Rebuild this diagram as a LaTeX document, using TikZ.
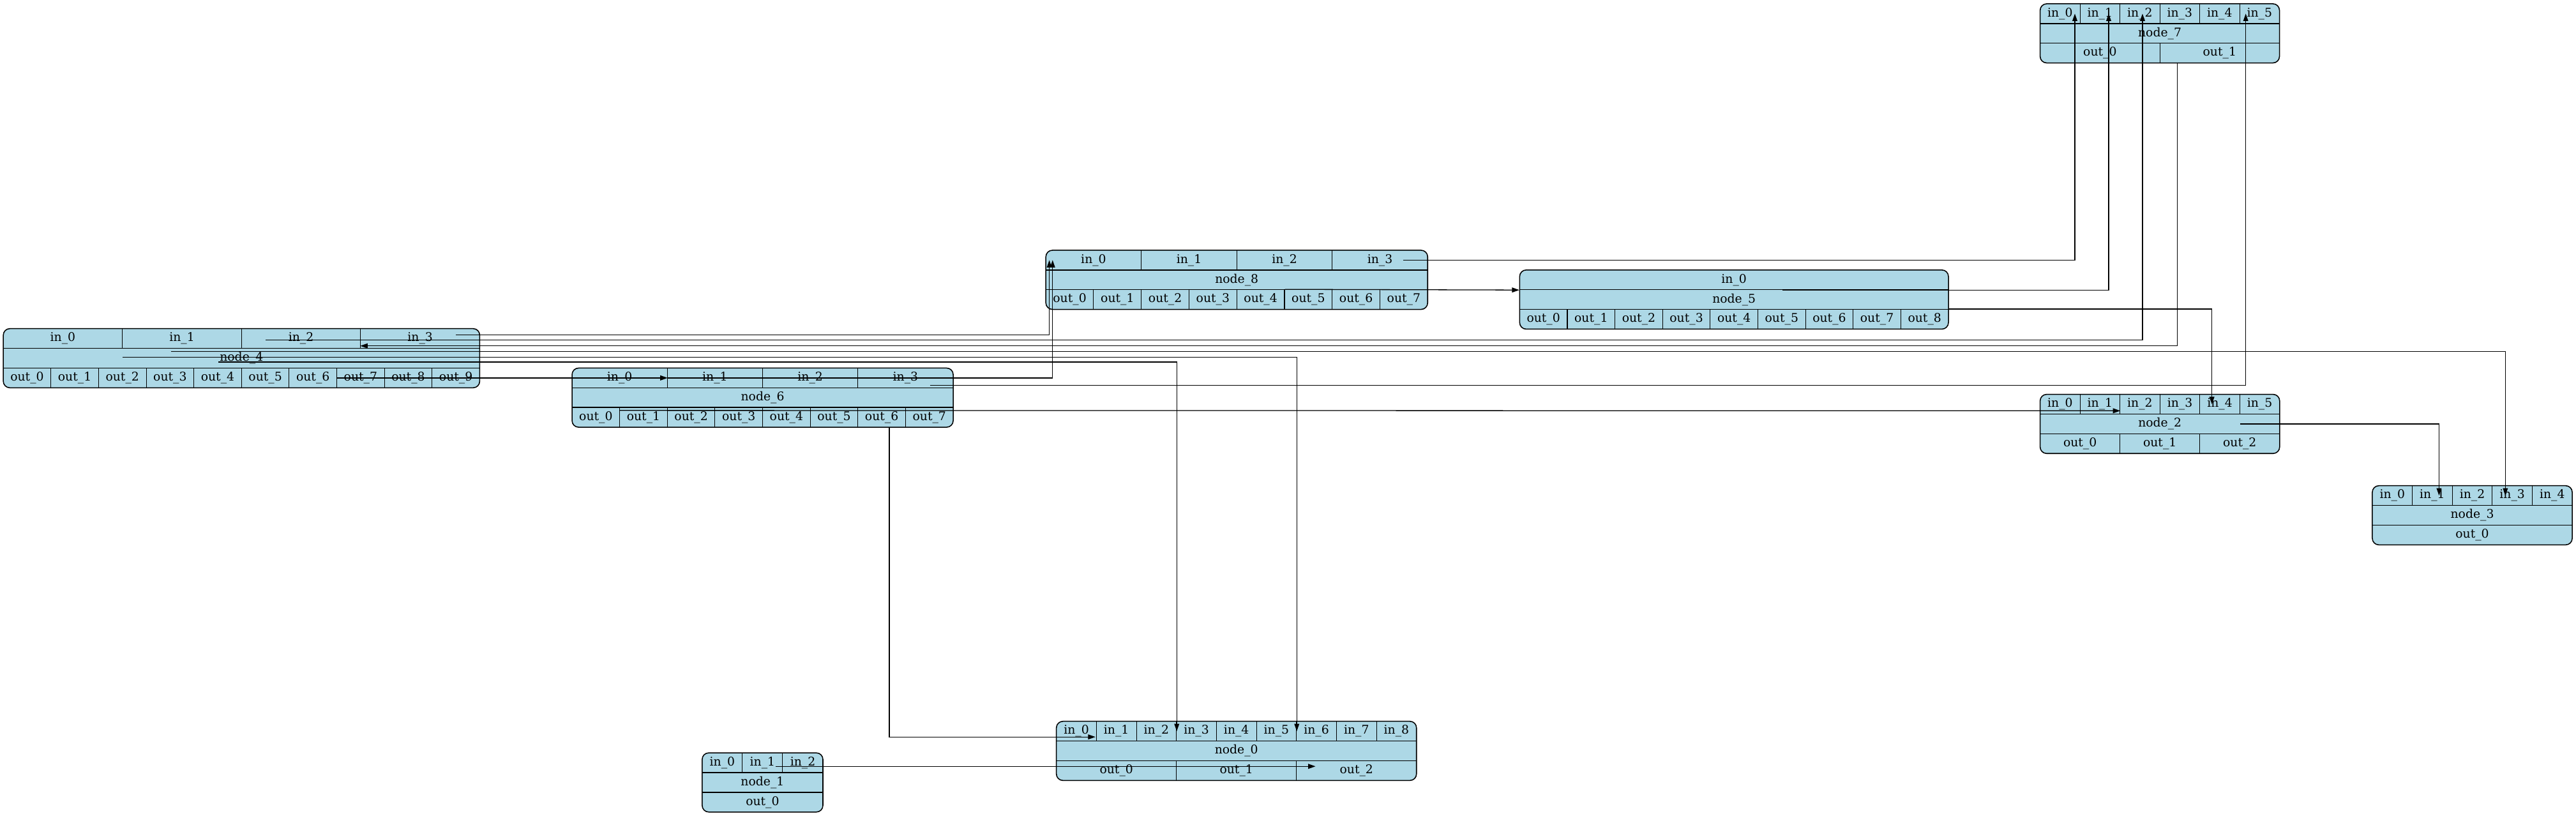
\documentclass[tikz,border=0pt]{standalone}
\usepackage{fontspec}
\setmainfont{DejaVu Serif}
\usetikzlibrary{arrows.meta}
\definecolor{gvblue}{RGB}{173,216,230}

\tikzset{
  recframe/.style={draw=black, fill=gvblue, line width=0.6pt, rounded corners=4},
  recrow/.style={line width=0.6pt},
  recsep/.style={line width=0.4pt},
  cell/.style={inner sep=0pt, minimum height=12, font=\fontsize{7.3}{8}\selectfont},
  edge/.style={-{Triangle[length=4.5pt,width=3pt]}, line width=0.5pt}
}

% record box: name, left, top, width, label, no. of inputs, no. of outputs
\newcommand{\recbox}[7]{%
  \draw[recframe] (#2,#3) rectangle ++(#4,36);
  \draw[recrow] (#2,#3+12) -- ++(#4,0) (#2,#3+24) -- ++(#4,0);
  \node[cell, minimum width=#4] (#1) at (#2+#4/2,#3+18) {#5};
  \pgfmathsetmacro\cwin{#4/#6}
  \pgfmathsetmacro\cwout{#4/#7}
  \foreach \i in {1,...,#6}{%
    \pgfmathtruncatemacro\portno{\i-1}
    \node[cell, minimum width=\cwin] (#1-in\portno) at (#2+\cwin*\i-\cwin/2,#3+6) {in\_\portno};
    \ifnum\i<#6 \draw[recsep] (#2+\cwin*\i,#3) -- ++(0,12);\fi
  }
  \foreach \i in {1,...,#7}{%
    \pgfmathtruncatemacro\portno{\i-1}
    \node[cell, minimum width=\cwout] (#1-out\portno) at (#2+\cwout*\i-\cwout/2,#3+30) {out\_\portno};
    \ifnum\i<#7 \draw[recsep] (#2+\cwout*\i,#3+24) -- ++(0,12);\fi
  }
}

\begin{document}
\begin{tikzpicture}[x=1pt, y=-1pt]
\fill[white] (0,0) rectangle (1568,496.25);
\useasboundingbox (0,0) rectangle (1568,496.25);

% records
\recbox{n7}{1241.8}{2.3}{145.7}{node\_7}{6}{2}
\recbox{n8}{636.6}{152.3}{232.4}{node\_8}{4}{8}
\recbox{n5}{925}{164.3}{261}{node\_5}{1}{9}
\recbox{n4}{2}{200}{290}{node\_4}{4}{10}
\recbox{n6}{348.2}{224}{232}{node\_6}{4}{8}
\recbox{n2}{1241.8}{240}{145.8}{node\_2}{6}{3}
\recbox{n3}{1444}{295.6}{121.7}{node\_3}{5}{1}
\recbox{n0}{643}{439}{219.2}{node\_0}{9}{3}
\recbox{n1}{427.4}{458.2}{73.5}{node\_1}{3}{1}

% edges into node_7
\draw[edge] ([xshift=14]n8-in3.center) -| ([xshift=9]n7-in0.center);
\draw[edge] ([xshift=29.5]n5-in0.south) -| ([xshift=5.3]n7-in1.center);
\draw[edge] ([xshift=-21.5,yshift=-1]n4-in2.center) -| ([xshift=1.6]n7-in2.center);
\draw[edge] ([xshift=14.8,yshift=-4.4]n6-in3.center) -| ([xshift=-8.4]n7-in5.center);

% edges into node_8 and node_5
\draw[edge] ([xshift=21.9,yshift=2.2]n4-in3.center) -| ([xshift=2.3]n8-in0.west);
\draw[edge] (n6-in1.west) -| ([xshift=4.3]n8-in0.west);
\draw[edge] (n8-out4.north east) -- (n5-in0.south west);

% edges into node_4 and node_6
\draw[edge] ([xshift=10.75]n7-out1.south west) |- ([yshift=-4.5]n4-in3.west);
\draw[edge] (n4-out7.west) -- (n6-in0.east);

% edges into node_2 and node_3
\draw[edge] (n5-out8.north east) -| ([xshift=-4.8]n2-in4.center);
\draw[edge] ([yshift=-2]n6-out1.north west) -- ([yshift=-4]n2-in1.east);
\draw[edge] ([xshift=-43,yshift=4.2]n4.center) -| ([xshift=-4.2]n3-in3.center);
\draw[edge] ([xshift=48.8]n2.center) -| ([xshift=4.1]n3-in1.center);

% edges into node_0
\draw[edge] ([xshift=-72.4,yshift=0.7]n4.center) -| (n0-in5.east);
\draw[edge] ([xshift=-14.1,yshift=-2.3]n4.center) -| (n0-in2.east);
\draw[edge] ([xshift=4.6]n6-out6.south) |- ([xshift=11.6,yshift=-3.5]n0-in0.center);
\draw[edge] ([xshift=7.9,yshift=-2.2]n1-in1.center) -- ([xshift=11.4,yshift=2.6]n0-out1.east);
\end{tikzpicture}
\end{document}
